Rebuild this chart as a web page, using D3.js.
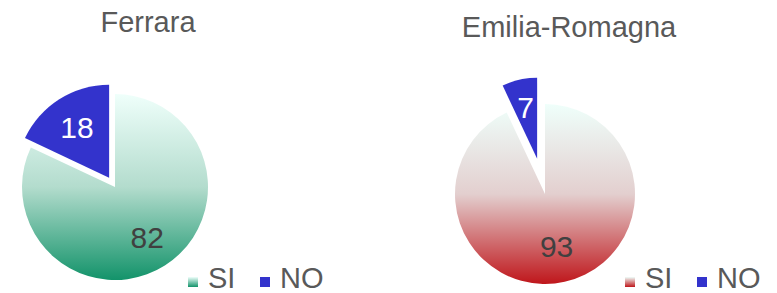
<!DOCTYPE html>
<html>
<head>
<meta charset="utf-8">
<script src="https://cdn.jsdelivr.net/npm/d3@7"></script>
<style>
  body { margin: 0; background: #fff; }
  svg { display: block; font-family: 'Liberation Sans', Arial, sans-serif; }
</style>
</head>
<body>
<svg id="chart"></svg>
<script>
const width = 777;
const height = 293;

// data
const categories = ['SI', 'NO'];
const ferraraValues = [82, 18];
const emiliaValues = [93, 7];
const titles = ['Ferrara', 'Emilia-Romagna'];

const svg = d3.select('#chart')
  .attr('width', width)
  .attr('height', height)

const defs = svg.append('defs')

// per-pie layout
const pies = [
  { title: titles[0], values: ferraraValues, cx: 115, cy: 187, r: 93, explode: 11, rNo: 93, labelR: 60,
    titleX: 148, titleY: 32, legendX: 188, grad: ['#effffb', '#b3dccd', '#13936a'], id: 'gFer' },
  { title: titles[1], values: emiliaValues, cx: 545, cy: 194, r: 90, explode: 36, rNo: 81, labelR: 53,
    titleX: 569, titleY: 37, legendX: 625, grad: ['#effffb', '#e3cfcf', '#bf161b'], id: 'gEmi' }
]

const blue = '#3333cc'

pies.forEach(p => {
  // vertical gradient for the SI slice (in the pie group's own coords)
  const lg = defs.append('linearGradient')
    .attr('id', p.id)
    .attr('gradientUnits', 'userSpaceOnUse')
    .attr('x1', 0).attr('x2', 0)
    .attr('y1', -p.r).attr('y2', p.r)
  lg.append('stop').attr('offset', 0).attr('stop-color', p.grad[0])
  lg.append('stop').attr('offset', 0.5).attr('stop-color', p.grad[1])
  lg.append('stop').attr('offset', 1).attr('stop-color', p.grad[2])

  // small gradient for legend swatch
  const lg2 = defs.append('linearGradient')
    .attr('id', p.id + 'L')
    .attr('x1', 0).attr('x2', 0).attr('y1', 0).attr('y2', 1)
  lg2.append('stop').attr('offset', 0).attr('stop-color', p.grad[0])
  lg2.append('stop').attr('offset', 1).attr('stop-color', p.grad[2])

  const pieGen = d3.pie().sort(null).value(d => d)
  const arcs = pieGen(p.values)

  const g = svg.append('g')
    .attr('transform', `translate(${p.cx},${p.cy})`)

  arcs.forEach((a, i) => {
    const mid = (a.startAngle + a.endAngle) / 2
    const off = i === 1 ? p.explode : 0
    const dx = Math.sin(mid) * off
    const dy = -Math.cos(mid) * off
    const outer = i === 1 ? p.rNo : p.r
    const arc = d3.arc().innerRadius(0).outerRadius(outer)

    g.append('path')
      .attr('d', arc(a))
      .attr('transform', `translate(${dx},${dy})`)
      .attr('fill', i === 0 ? `url(#${p.id})` : blue)

    const lx = dx + Math.sin(mid) * p.labelR
    const ly = dy - Math.cos(mid) * p.labelR
    g.append('text')
      .attr('x', lx)
      .attr('y', ly)
      .attr('dy', '0.36em')
      .attr('text-anchor', 'middle')
      .attr('font-size', '30px')
      .attr('fill', i === 0 ? '#404040' : '#ffffff')
      .text(a.data)
  })

  svg.append('text')
    .attr('x', p.titleX)
    .attr('y', p.titleY)
    .attr('text-anchor', 'middle')
    .attr('font-size', '29px')
    .attr('fill', '#595959')
    .text(p.title)

  // legend
  const legend = svg.append('g')
    .attr('transform', `translate(${p.legendX},288)`)
  categories.forEach((c, i) => {
    legend.append('rect')
      .attr('x', i * 72)
      .attr('y', -11)
      .attr('width', 10)
      .attr('height', 10)
      .attr('fill', i === 0 ? `url(#${p.id}L)` : blue)
    legend.append('text')
      .attr('x', i * 72 + 20)
      .attr('y', 0)
      .attr('font-size', '29px')
      .attr('fill', '#595959')
      .text(c)
  })
})
</script>
</body>
</html>
